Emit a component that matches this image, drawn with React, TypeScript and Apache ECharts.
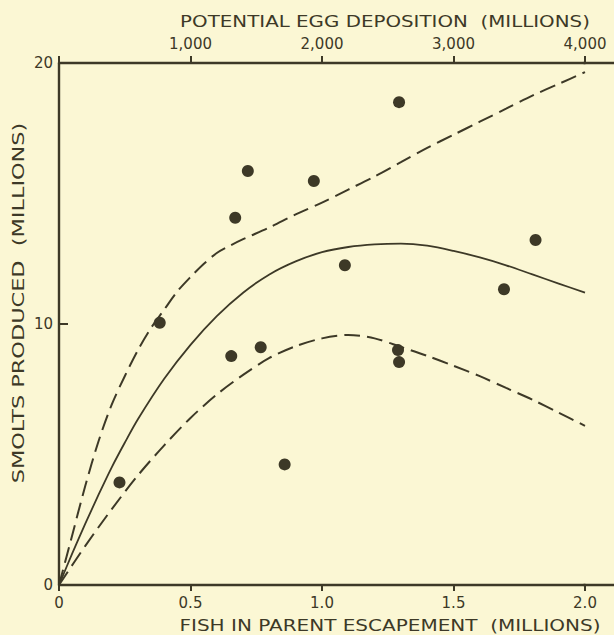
import React, { useEffect, useRef } from "react";
import * as echarts from "echarts";

// ---- data ----
const fishTicks = [0, 0.5, 1.0, 1.5, 2.0];
const eggTicks = [1000, 2000, 3000, 4000];
const smoltTicks = [0, 10, 20];

// observed points: [fish in parent escapement (M), smolts produced (M)]
const observedX = [0.23, 0.383, 0.655, 0.67, 0.718, 0.767, 0.858, 0.969, 1.087, 1.289, 1.293, 1.293, 1.692, 1.812];
const observedY = [3.93, 10.05, 8.77, 14.07, 15.86, 9.11, 4.62, 15.48, 12.25, 9.0, 8.54, 18.5, 11.33, 13.22];

// fitted curve (solid)
const fitX = [0, 0.05, 0.1, 0.15, 0.2, 0.25, 0.3, 0.4, 0.5, 0.6, 0.7, 0.8, 0.9, 1.0, 1.1, 1.2, 1.3, 1.4, 1.5, 1.6, 1.7, 1.8, 1.9, 2.0];
const fitY = [0, 1.2, 2.35, 3.45, 4.5, 5.45, 6.35, 7.9, 9.2, 10.3, 11.2, 11.9, 12.4, 12.75, 12.95, 13.05, 13.08, 13.0, 12.8, 12.55, 12.25, 11.9, 11.55, 11.2];

// upper limit (dashed)
const upperX = [0, 0.05, 0.1, 0.15, 0.2, 0.25, 0.3, 0.35, 0.4, 0.45, 0.5, 0.55, 0.6, 0.65, 0.7, 0.8, 0.9, 1.0, 1.1, 1.2, 1.3, 1.4, 1.5, 1.6, 1.7, 1.8, 1.9, 2.0];
const upperY = [0, 1.9, 3.8, 5.5, 6.9, 8.0, 9.0, 9.85, 10.55, 11.25, 11.8, 12.3, 12.72, 13.0, 13.25, 13.7, 14.2, 14.65, 15.15, 15.65, 16.2, 16.75, 17.25, 17.75, 18.25, 18.75, 19.2, 19.65];

// lower limit (dashed)
const lowerX = [0, 0.1, 0.2, 0.3, 0.4, 0.5, 0.6, 0.7, 0.8, 0.9, 1.0, 1.1, 1.2, 1.3, 1.4, 1.5, 1.6, 1.7, 1.8, 1.9, 2.0];
const lowerY = [0, 1.5, 2.9, 4.2, 5.35, 6.4, 7.3, 8.05, 8.7, 9.15, 9.45, 9.58, 9.45, 9.12, 8.78, 8.4, 8.0, 7.55, 7.1, 6.6, 6.1];

const FISH_MAX = 2.0;
const EGGS_PER_FISH = 2000;

const INK = "#3d3927";
const BG = "#fbf7d4";
const FONT = "DejaVu Sans";

const zip = (xs: number[], ys: number[]) => xs.map((x, i) => [x, ys[i]]);

export default function App() {
  const ref = useRef<HTMLDivElement>(null);
  useEffect(() => {
    if (!ref.current) return;
    const chart = echarts.init(ref.current, undefined, { renderer: "svg" });
    const labelStyle = { color: INK, fontFamily: FONT, fontSize: 15 };
    const axisLine = { show: true, lineStyle: { color: INK, width: 2.4 } };
    chart.setOption({
      animation: false,
      backgroundColor: BG,
      grid: [
        { left: 59, right: 29, top: 63, bottom: 50 },
        // continuation of the frame lines past the last tick (to the page edge)
        { left: 584, right: 0, top: 63, bottom: 50 },
      ],
      xAxis: [
        {
          type: "value",
          gridIndex: 0,
          position: "bottom",
          min: 0,
          max: FISH_MAX,
          interval: 0.5,
          axisLine,
          axisTick: { show: true, inside: false, length: 6, lineStyle: { color: INK, width: 2 } },
          axisLabel: {
            ...labelStyle,
            margin: 10,
            showMinLabel: true,
            showMaxLabel: true,
            formatter: (v: number) => (v === 0 ? "0" : v.toFixed(1)),
          },
          splitLine: { show: false },
        },
        {
          type: "value",
          gridIndex: 0,
          position: "top",
          min: 0,
          max: FISH_MAX * EGGS_PER_FISH,
          interval: 1000,
          axisLine,
          axisTick: { show: true, inside: false, length: 7, lineStyle: { color: INK, width: 2 } },
          axisLabel: {
            ...labelStyle,
            margin: 12,
            showMinLabel: true,
            showMaxLabel: true,
            customValues: eggTicks,
            formatter: (v: number) => (v === 0 ? "" : v.toLocaleString("en-US")),
          },
          splitLine: { show: false },
        },
        {
          type: "value",
          gridIndex: 1,
          position: "bottom",
          min: 0,
          max: 1,
          axisLine,
          axisTick: { show: false },
          axisLabel: { show: false },
          splitLine: { show: false },
        },
        {
          type: "value",
          gridIndex: 1,
          position: "top",
          min: 0,
          max: 1,
          axisLine,
          axisTick: { show: false },
          axisLabel: { show: false },
          splitLine: { show: false },
        },
      ],
      yAxis: [
        {
          type: "value",
          gridIndex: 0,
          min: 0,
          max: 20,
          interval: 10,
          axisLine,
          axisTick: { show: true, inside: true, length: 9, lineStyle: { color: INK, width: 2 } },
          axisLabel: { ...labelStyle, margin: 6, showMinLabel: true, showMaxLabel: true, customValues: smoltTicks },
          splitLine: { show: false },
        },
        {
          type: "value",
          gridIndex: 1,
          min: 0,
          max: 20,
          show: false,
        },
      ],
      graphic: [
        {
          type: "text",
          x: 385,
          y: 21,
          scaleX: 1.24,
          style: { text: "POTENTIAL EGG DEPOSITION  (MILLIONS)", align: "center", verticalAlign: "middle", fill: INK, font: `16px "${FONT}"` },
        },
        {
          type: "text",
          x: 390,
          y: 625,
          scaleX: 1.25,
          style: { text: "FISH IN PARENT ESCAPEMENT  (MILLIONS)", align: "center", verticalAlign: "middle", fill: INK, font: `16px "${FONT}"` },
        },
        {
          type: "group",
          x: 19,
          y: 303,
          rotation: Math.PI / 2,
          children: [
            {
              type: "text",
              x: 0,
              y: 0,
              scaleX: 1.4,
              style: { text: "SMOLTS PRODUCED  (MILLIONS)", align: "center", verticalAlign: "middle", fill: INK, font: `16px "${FONT}"` },
            },
          ],
        },
      ],
      series: [
        {
          type: "line",
          data: zip(upperX, upperY),
          smooth: 0.3,
          showSymbol: false,
          lineStyle: { color: INK, width: 2, type: [16, 7] },
          silent: true,
        },
        {
          type: "line",
          data: zip(fitX, fitY),
          smooth: 0.3,
          showSymbol: false,
          lineStyle: { color: INK, width: 1.8 },
          silent: true,
        },
        {
          type: "line",
          data: zip(lowerX, lowerY),
          smooth: 0.3,
          showSymbol: false,
          lineStyle: { color: INK, width: 2, type: [16, 7] },
          silent: true,
        },
        {
          type: "scatter",
          data: zip(observedX, observedY),
          symbol: "circle",
          symbolSize: 12,
          itemStyle: { color: INK, opacity: 1 },
          z: 5,
        },
      ],
    });
    return () => chart.dispose();
  }, []);
  return <div ref={ref} style={{ width: 614, height: 635, position: "fixed", left: 0, top: 0 }} />;
}
